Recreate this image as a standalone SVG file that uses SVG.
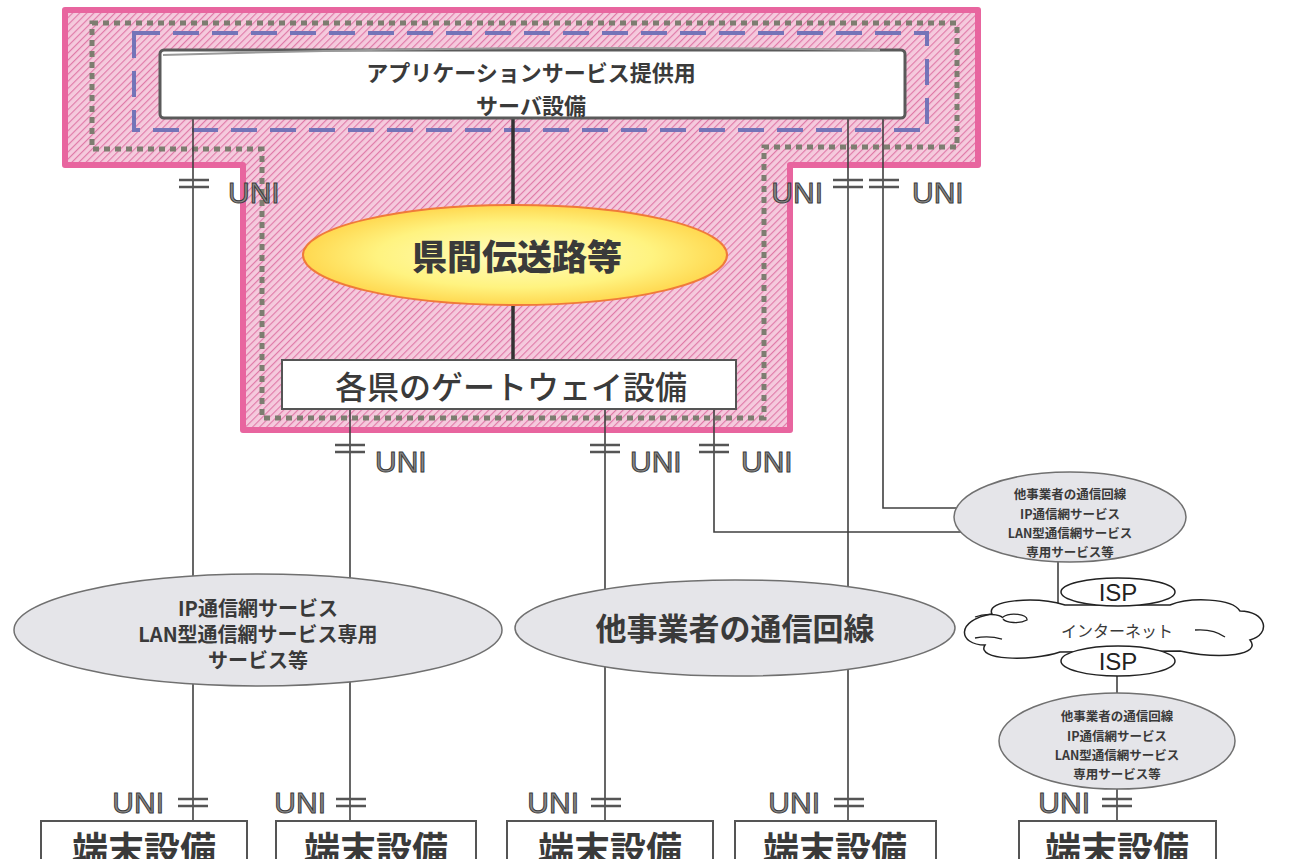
<svg xmlns="http://www.w3.org/2000/svg" width="1301" height="859" viewBox="0 0 1301 859">
<defs>
  <pattern id="hatch" width="5" height="5" patternUnits="userSpaceOnUse" patternTransform="rotate(45)">
    <rect width="5" height="5" fill="#f5cadd"/>
    <line x1="0" y1="0" x2="0" y2="5" stroke="#e07aa8" stroke-width="2.3"/>
  </pattern>
  <radialGradient id="yellow" cx="50%" cy="50%" r="50%">
    <stop offset="0" stop-color="#fffcc0"/>
    <stop offset="0.65" stop-color="#fff380"/>
    <stop offset="1" stop-color="#ffd850"/>
  </radialGradient>
  <style>
    .jp{font-family:"Noto Sans CJK JP",sans-serif;fill:#3a3a3a;text-anchor:middle}
    .b{font-weight:bold}
    .uni{font-family:"Liberation Sans","DejaVu Sans",sans-serif;font-size:30px;fill:#8a8a8a;stroke:#3a3a3a;stroke-width:1}
    .ln{stroke:#404040;stroke-width:1.6;fill:none}
    .thick{stroke:#333;stroke-width:3.5;fill:none}
    .eq{stroke:#555;stroke-width:2.5}
    .gray{fill:#e5e5e9;stroke:#707070;stroke-width:1.5}
    .box{fill:#fff;stroke:#555;stroke-width:2}
    .wht{fill:#fff;stroke:#222;stroke-width:1.5}
  </style>
</defs>
<rect width="1301" height="859" fill="#fff"/>

<g id="common-area">
  <path d="M65,10 H978 V165 H790 V430 H243 V165 H65 Z" fill="url(#hatch)" stroke="#e8659f" stroke-width="6" stroke-linejoin="round"/>
  <path d="M92,23 H957 V147 H764 V418 H262 V149 H92 Z" fill="none" stroke="#7d7d70" stroke-width="5" stroke-dasharray="6 5"/>
  <rect x="134" y="33" width="793" height="97" fill="none" stroke="#7474b8" stroke-width="4" stroke-dasharray="26 13"/>
</g>

<g id="connectors">
  <line class="ln" x1="193" y1="118" x2="193" y2="821"/>
  <line class="ln" x1="350" y1="409" x2="350" y2="821"/>
  <line class="ln" x1="605" y1="409" x2="605" y2="821"/>
  <polyline class="ln" points="714,409 714,532 975,532"/>
  <line class="ln" x1="848" y1="118" x2="848" y2="821"/>
  <polyline class="ln" points="883,118 883,508 962,508"/>
  <line class="ln" x1="1058" y1="558" x2="1058" y2="604"/>
  <line class="ln" x1="1117" y1="675" x2="1117" y2="821"/>
  <line class="thick" x1="513" y1="118" x2="513" y2="210"/>
  <line class="thick" x1="513" y1="300" x2="513" y2="360"/>
</g>

<g id="uni-markers">
  <path class="eq" d="M179,180 H209 M179,187 H209 M833,180 H863 M833,187 H863 M869,180 H899 M869,187 H899"/>
  <path class="eq" d="M335,445 H365 M335,452 H365 M590,445 H620 M590,452 H620 M699,445 H729 M699,452 H729"/>
  <path class="eq" d="M178,799 H208 M178,806 H208 M336,799 H366 M336,806 H366 M591,799 H621 M591,806 H621 M834,799 H864 M834,806 H864 M1102,799 H1132 M1102,806 H1132"/>
  <text class="uni" x="228" y="203">UNI</text>
  <text class="uni" x="823" y="203" text-anchor="end">UNI</text>
  <text class="uni" x="912" y="203">UNI</text>
  <text class="uni" x="375" y="472">UNI</text>
  <text class="uni" x="630" y="472">UNI</text>
  <text class="uni" x="741" y="472">UNI</text>
  <text class="uni" x="164" y="813" text-anchor="end">UNI</text>
  <text class="uni" x="326" y="813" text-anchor="end">UNI</text>
  <text class="uni" x="579" y="813" text-anchor="end">UNI</text>
  <text class="uni" x="820" y="813" text-anchor="end">UNI</text>
  <text class="uni" x="1090" y="813" text-anchor="end">UNI</text>
</g>

<g id="server">
  <rect x="160" y="50" width="745" height="68" rx="4" fill="#fff" stroke="#5a5a5a" stroke-width="3"/>
  <path d="M163,55 Q520,44 880,50" fill="none" stroke="#999" stroke-width="2"/>
  <text class="jp b" x="531" y="81" font-size="22">アプリケーションサービス提供用</text>
  <text class="jp b" x="531" y="114" font-size="22">サーバ設備</text>
</g>

<g id="interprefecture">
  <ellipse cx="515" cy="255" rx="212" ry="50" fill="url(#yellow)" stroke="#f07a3a" stroke-width="2"/>
  <text class="jp" x="517" y="270" font-size="35" font-weight="900">県間伝送路等</text>
</g>

<g id="gateway">
  <rect class="box" x="282" y="360" width="454" height="49"/>
  <text class="jp" x="511" y="399" font-size="32" font-weight="500">各県のゲートウェイ設備</text>
</g>

<g id="ip-network">
  <ellipse class="gray" cx="258" cy="630" rx="244" ry="56"/>
  <text class="jp b" x="258" y="616" font-size="20">IP通信網サービス</text>
  <text class="jp b" x="258" y="642" font-size="20">LAN型通信網サービス専用</text>
  <text class="jp b" x="258" y="668" font-size="20">サービス等</text>
</g>

<g id="other-carrier">
  <ellipse class="gray" cx="735" cy="628" rx="220" ry="48"/>
  <text class="jp b" x="735" y="640" font-size="31">他事業者の通信回線</text>
</g>

<g id="other-carrier-top">
  <ellipse class="gray" cx="1070" cy="517" rx="116" ry="45"/>
  <text class="jp b" x="1070" y="499" font-size="12.5">他事業者の通信回線</text>
  <text class="jp b" x="1070" y="519" font-size="12.5">IP通信網サービス</text>
  <text class="jp b" x="1070" y="538" font-size="12.5">LAN型通信網サービス</text>
  <text class="jp b" x="1070" y="557" font-size="12.5">専用サービス等</text>
</g>

<g id="internet">
  <path class="wht" d="M992,614 C985,600 1035,596 1065,605 L1170,605 C1190,597 1232,598 1240,611 C1266,611 1272,634 1250,640 C1262,655 1222,660 1180,651 L1060,652 C1030,662 975,660 985,645 C958,645 955,620 992,614 Z"/>
  <path d="M975,617 C985,613 1000,614 1003,618 M1003,617 C1010,612 1028,614 1027,620 C1020,624 1006,623 1003,619 M975,638 C985,636 995,637 1002,639 M1195,630 C1208,629 1218,632 1225,637" fill="none" stroke="#222" stroke-width="1.3"/>
  <text class="jp" x="1117" y="637" font-size="16">インターネット</text>
</g>

<g id="isp-1">
  <ellipse class="wht" cx="1118" cy="592" rx="57" ry="14"/>
  <text x="1118" y="601" font-family="Liberation Sans, sans-serif" font-size="24" text-anchor="middle" fill="#222">ISP</text>
</g>

<g id="isp-2">
  <ellipse class="wht" cx="1118" cy="661" rx="57" ry="15"/>
  <text x="1118" y="670" font-family="Liberation Sans, sans-serif" font-size="24" text-anchor="middle" fill="#222">ISP</text>
</g>

<g id="other-carrier-bottom">
  <ellipse class="gray" cx="1117" cy="741" rx="118" ry="48"/>
  <text class="jp b" x="1117" y="721" font-size="12.5">他事業者の通信回線</text>
  <text class="jp b" x="1117" y="741" font-size="12.5">IP通信網サービス</text>
  <text class="jp b" x="1117" y="760" font-size="12.5">LAN型通信網サービス</text>
  <text class="jp b" x="1117" y="779" font-size="12.5">専用サービス等</text>
</g>

<g id="terminal-1"><rect class="box" x="41" y="821" width="206" height="60"/><text class="jp b" x="144" y="863" font-size="36">端末設備</text></g>
<g id="terminal-2"><rect class="box" x="276" y="821" width="200" height="60"/><text class="jp b" x="376" y="863" font-size="36">端末設備</text></g>
<g id="terminal-3"><rect class="box" x="507" y="821" width="206" height="60"/><text class="jp b" x="610" y="863" font-size="36">端末設備</text></g>
<g id="terminal-4"><rect class="box" x="735" y="821" width="201" height="60"/><text class="jp b" x="835" y="863" font-size="36">端末設備</text></g>
<g id="terminal-5"><rect class="box" x="1019" y="821" width="197" height="60"/><text class="jp b" x="1117" y="863" font-size="36">端末設備</text></g>
</svg>
